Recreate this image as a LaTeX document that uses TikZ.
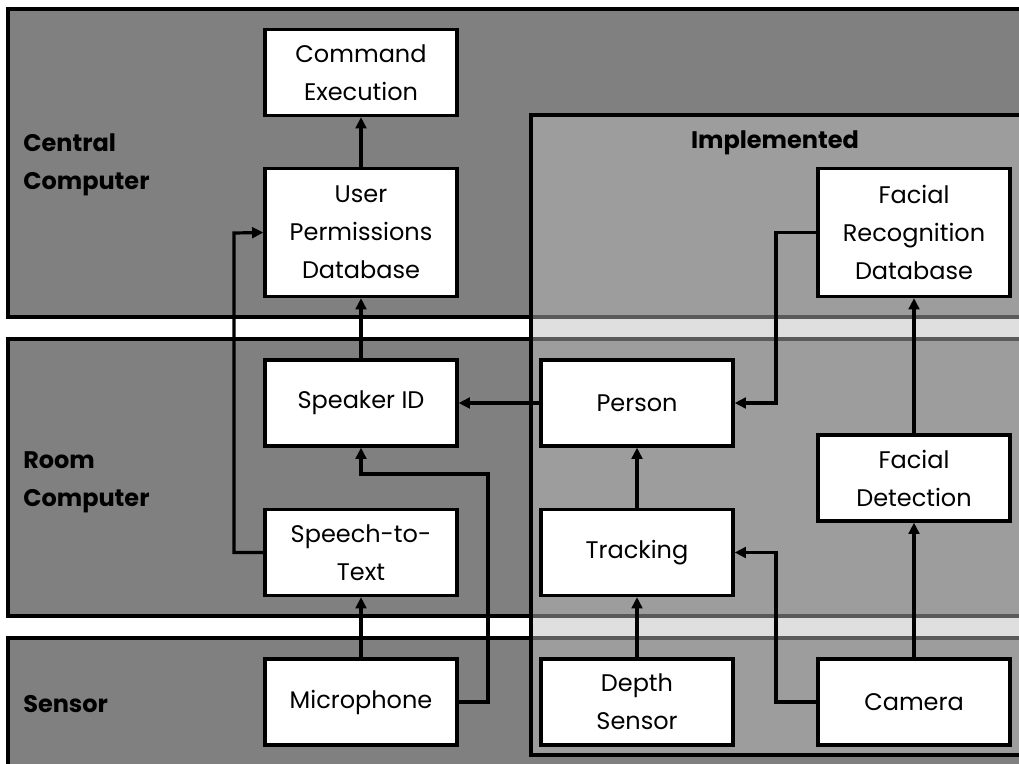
\documentclass[tikz,border=0pt]{standalone}
\usepackage{fontspec}
\setmainfont{Poppins}
\usepackage{tikz}
\usetikzlibrary{arrows.meta}
\definecolor{lanegray}{gray}{0.5}
\definecolor{implgray}{gray}{0.745}

\begin{document}
\fontsize{18}{28.5}\selectfont
\begin{tikzpicture}[x=0.75pt,y=-0.75pt,
  lane/.style={draw=black,line width=2.4pt,fill=lanegray},
  impl/.style={draw=black,line width=2.4pt,fill=implgray,fill opacity=0.48},
  box/.style={rectangle,draw=black,fill=white,line width=2.4pt,minimum width=144pt,minimum height=64.5pt,inner sep=0pt,align=center},
  tallbox/.style={box,minimum height=96pt},
  lanename/.style={font=\bfseries,align=left,anchor=west,inner sep=0pt},
  arr/.style={line width=2.4pt,-{Triangle[length=8.5pt,width=8pt]}}]
\clip (0,0) rectangle (1019,763);
\fill[white] (0,0) rectangle (1019,763);
%Lanes
\draw[lane] (8,9) rectangle (1040,317);
\draw[lane] (8,339) rectangle (1040,616);
\draw[lane] (8,638) rectangle (1040,790);
\draw[impl] (531,115) rectangle (1040,755);
%Names
\node at (23,165)[lanename] (central) {Central\\Computer} ;
\node at (23,482)[lanename] (room) {Room\\Computer} ;
\node at (23,704)[lanename] (sensor) {Sensor} ;
\node at (775,143)[font=\bfseries] (impl) {Implemented} ;
%Boxes
\node at (361,72.5)[box] (cmd) {Command\\Execution} ;
\node at (361,232.5)[tallbox] (perm) {User\\Permissions\\Database} ;
\node at (361,403)[box] (spk) {Speaker ID} ;
\node at (361,552.5)[box] (stt) {Speech-to-\\Text} ;
\node at (361,702)[box] (mic) {Microphone} ;
\node at (637,403)[box] (person) {Person} ;
\node at (637,552.5)[box] (track) {Tracking} ;
\node at (637,702)[box] (depth) {Depth\\Sensor} ;
\node at (914,232.5)[tallbox] (frdb) {Facial\\Recognition\\Database} ;
\node at (914,478)[box] (fdet) {Facial\\Detection} ;
\node at (914,702)[box] (cam) {Camera} ;
%Bends
\coordinate (sttturn) at (234,233) ;
\coordinate (micturn) at (488,474) ;
\coordinate (frdturn) at (776,403) ;
\coordinate (camturn) at (776,552.5) ;
%Arrows
\draw[arr] (perm) -- (cmd);
\draw[arr] (spk) -- (perm);
\draw[arr] (stt.west) -| (sttturn) -- (perm.west);
\draw[arr] (mic) -- (stt);
\draw[arr] (mic.east) -| (micturn) -| (spk.south);
\draw[arr] (person) -- (spk);
\draw[arr] (frdb.west) -| (frdturn) -- (person.east);
\draw[arr] (track) -- (person);
\draw[arr] (depth) -- (track);
\draw[arr] (cam.west) -| (camturn) -- (track.east);
\draw[arr] (cam) -- (fdet);
\draw[arr] (fdet) -- (frdb);
\end{tikzpicture}
\end{document}
